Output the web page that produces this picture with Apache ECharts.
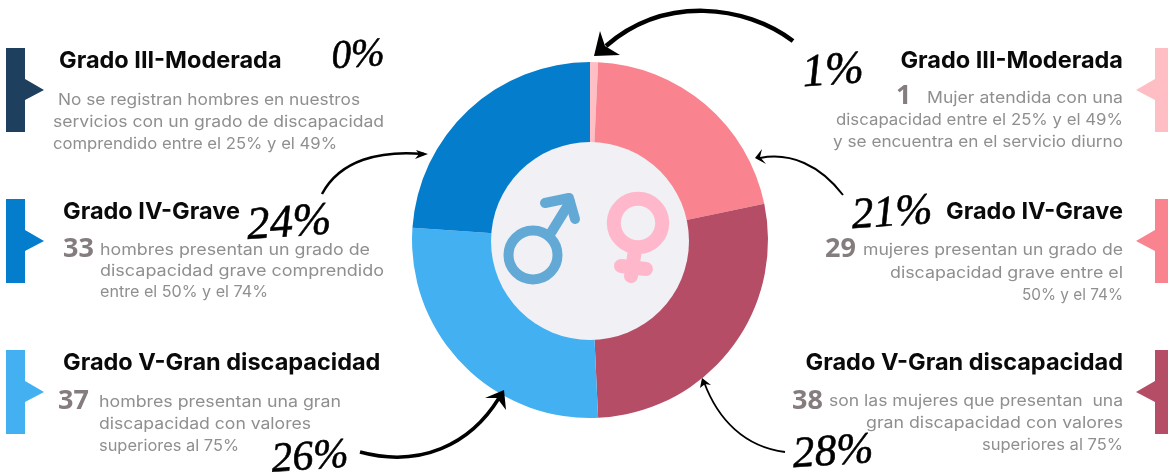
<!DOCTYPE html>
<html>
<head>
<meta charset="utf-8">
<style>html,body{margin:0;padding:0;background:#fff}#c{width:1168px;height:475px}</style>
<script src="https://cdn.jsdelivr.net/npm/echarts@6/dist/echarts.min.js"></script>
</head>
<body>
<div id="c"></div>
<script>
const categories = ['Mujeres Grado III-Moderada','Mujeres Grado IV-Grave','Mujeres Grado V-Gran discapacidad','Hombres Grado V-Gran discapacidad','Hombres Grado IV-Grave','Hombres Grado III-Moderada'];
const values = [1, 29, 38, 37, 33, 0];
const sliceColors = ['#ffbdc4','#f9838e','#b54d66','#43b0f1','#057dcd','#1f3f5e'];
const percentLabels = ['1%','21%','28%','26%','24%','0%'];
const percentPos = [[833,72,-4,46],[892,214,-4,44],[833,453,-4,44],[310,458,-4,42],[289,224,-4,46],[358,56,-4,40]];

const titleIII = 'Grado III-Moderada', titleIV = 'Grado IV-Grave', titleV = 'Grado V-Gran discapacidad';
const BODY = '16px Inter, "Open Sans", sans-serif';
const TITLE = '700 23.5px Inter, "Noto Sans", sans-serif';
const NUM = '700 27px "Open Sans", sans-serif';

const blocksLeft = [
  {y:48, color:'#1f3f5e', title:titleIII, tx:59, ty:61, num:'', lines:[['No se registran hombres en nuestros',58,100,302],['servicios con un grado de discapacidad',53,122,331],['comprendido entre el 25% y el 49%',53,144,284]]},
  {y:199, color:'#057dcd', title:titleIV, tx:63, ty:212, num:'33', nx:63, ny:249, lines:[['hombres presentan un grado de',100,250,270],['discapacidad grave comprendido',100,271,284],['entre el 50% y el 74%',100,292,168]]},
  {y:350, color:'#43b0f1', title:titleV, tx:63, ty:363, num:'37', nx:58, ny:401, lines:[['hombres presentan una gran',99,402,242],['discapacidad con valores',99,424,212],['superiores al 75%',99,446,140]]}
];
const blocksRight = [
  {y:48, color:'#ffbdc4', title:titleIII, ty:61, num:'1', nx:896, ny:96, lines:[['Mujer atendida con una',98,196],['discapacidad entre el 25% y el 49%',120,287],['y se encuentra en el servicio diurno',142,290]]},
  {y:199, color:'#f9838e', title:titleIV, ty:212, num:'29', nx:825, ny:249, lines:[['mujeres presentan un grado de',250,260],['discapacidad grave entre el',273,233],['50% y el 74%',295,101]]},
  {y:350, color:'#b54d66', title:titleV, ty:363, num:'38', nx:792, ny:401, lines:[['son las mujeres que presentan  una',401,294],['gran discapacidad con valores',423,257],['superiores al 75%',445,141]]}
];

const ctx = document.createElement('canvas').getContext('2d');
function fit(text,width){ ctx.font = BODY; return width / ctx.measureText(text).width; }

const g = [];
const Z = 10;
function txt(text,x,y,font,fill,align,sx){
  g.push({type:'text',z:Z,x,y,scaleX:sx||1,style:{text,x:0,y:0,font,fill,textAlign:align||'left',textVerticalAlign:'middle'}});
}
blocksLeft.forEach(b=>{
  g.push({type:'polygon',z:Z,shape:{points:[[6,b.y],[25,b.y],[25,b.y+31],[44,b.y+42],[25,b.y+52],[25,b.y+84],[6,b.y+84]]},style:{fill:b.color}});
  txt(b.title,b.tx,b.ty,TITLE,'#0a0a0a');
  if(b.num) txt(b.num,b.nx,b.ny,NUM,'#857d7d');
  b.lines.forEach(l=>txt(l[0],l[1],l[2],BODY,'#8f8f8f','left',fit(l[0],l[3])));
});
blocksRight.forEach(b=>{
  g.push({type:'polygon',z:Z,shape:{points:[[1168,b.y],[1155,b.y],[1155,b.y+31],[1136,b.y+42],[1155,b.y+52],[1155,b.y+84],[1168,b.y+84]]},style:{fill:b.color}});
  txt(b.title,1123,b.ty,TITLE,'#0a0a0a','right');
  if(b.num) txt(b.num,b.nx,b.ny,NUM,'#857d7d');
  b.lines.forEach(l=>txt(l[0],1123,l[1],BODY,'#8f8f8f','right',fit(l[0],l[2])));
});

// inner disc and gender symbols
g.push({type:'circle',z:Z,shape:{cx:590,cy:241,r:99},style:{fill:'#f0f0f5'}});
const male = {stroke:'#62a9d6',lineWidth:10,fill:null,lineCap:'round',lineJoin:'round'};
const female = {stroke:'#ffb8cb',lineWidth:14,fill:null,lineCap:'round',lineJoin:'round'};
g.push({type:'circle',z:Z+1,shape:{cx:533,cy:255,r:24.5},style:male});
g.push({type:'polyline',z:Z+1,shape:{points:[[549,236],[570,202]]},style:male});
g.push({type:'polyline',z:Z+1,shape:{points:[[545,203],[569,198],[575,219]]},style:male});
g.push({type:'circle',z:Z+1,shape:{cx:638,cy:223,r:24.2},style:female});
g.push({type:'polyline',z:Z+1,shape:{points:[[635,250],[631,276]]},style:female});
g.push({type:'polyline',z:Z+1,shape:{points:[[621,266],[646,269]]},style:female});

// hand-drawn arrows
function arrow(p0,c1,c2,p1,w,head){
  g.push({type:'bezierCurve',z:Z,shape:{x1:p0[0],y1:p0[1],cpx1:c1[0],cpy1:c1[1],cpx2:c2[0],cpy2:c2[1],x2:p1[0],y2:p1[1]},style:{stroke:'#000',lineWidth:w,fill:null}});
  g.push({type:'polygon',z:Z,shape:{points:head},style:{fill:'#000'}});
}
arrow([793,41],[745,5],[665,-5],[606,46],4.5,[[594,56],[600,31],[605,46],[620,55]]);
arrow([843,195],[820,165],[790,152],[760,158],2,[[755,158],[762,149],[760,157],[766,164]]);
arrow([322,194],[340,160],[380,150],[424,154],2.5,[[428,154],[416,150],[419,154],[415,159]]);
arrow([360,452],[420,468],[470,445],[499,398],3.5,[[504,390],[485,398],[497,398],[506,410]]);
arrow([785,452],[745,447],[718,420],[704,382],1.8,[[702,378],[700,388],[705,384],[711,385]]);

// handwritten percentages
percentLabels.forEach((t,i)=>{
  const p = percentPos[i];
  g.push({type:'text',z:Z,x:p[0],y:p[1],rotation:p[2]*Math.PI/180*-1,style:{text:t,x:0,y:0,font:'italic 400 '+p[3]+'px "Liberation Serif", serif',fill:'#000',stroke:'#000',lineWidth:0.6,textAlign:'center',textVerticalAlign:'middle'}});
});

const chart = echarts.init(document.getElementById('c'),null,{renderer:'canvas'});
chart.setOption({
  animation:false,
  backgroundColor:'#fff',
  series:[{
    type:'pie',
    center:[590,240],
    radius:[90,178],
    startAngle:90,
    clockwise:true,
    silent:true,
    avoidLabelOverlap:false,
    label:{show:false},
    labelLine:{show:false},
    itemStyle:{borderWidth:0},
    data:categories.map((name,i)=>({name,value:values[i],itemStyle:{color:sliceColors[i]}}))
  }],
  graphic:{elements:g}
});
</script>
</body>
</html>
